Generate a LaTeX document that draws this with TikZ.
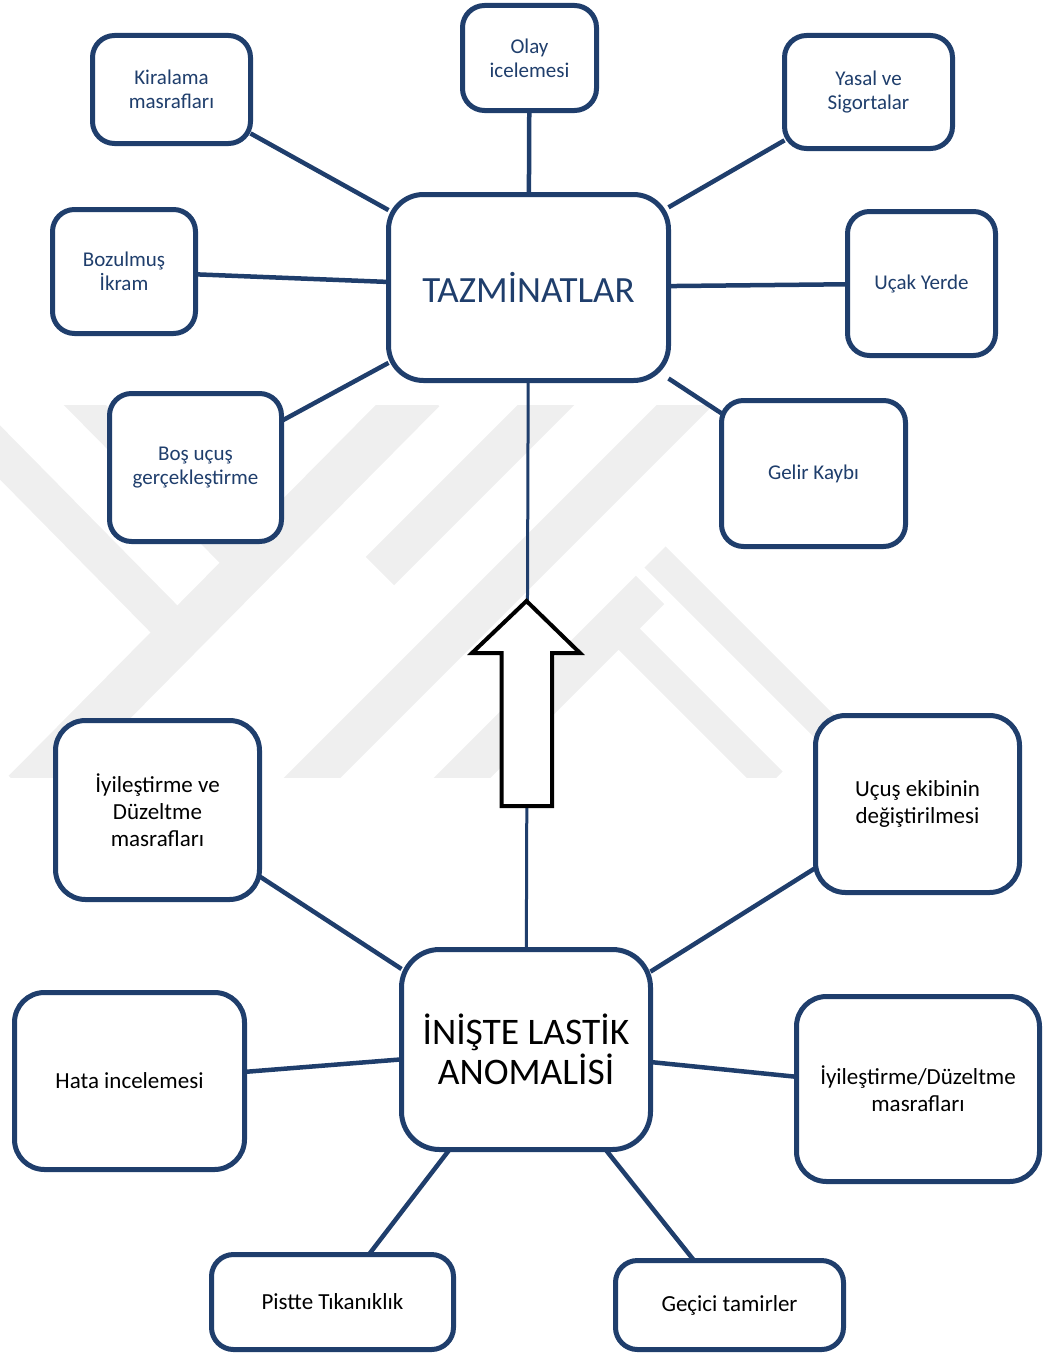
\documentclass[tikz,border=0pt]{standalone}
\usepackage{fontspec}
\setmainfont{Carlito}
\pgfdeclarelayer{wmlayer}
\pgfdeclarelayer{linklayer}
\pgfsetlayers{wmlayer,linklayer,main}
\definecolor{navy}{RGB}{31,62,108}
\definecolor{wmgray}{RGB}{239,239,239}
\tikzset{
  box/.style={draw=navy, line width=5pt, fill=white, rounded corners=22pt, align=center, inner sep=0pt, outer sep=0pt},
  topbox/.style={box, text=navy, font=\fontsize{21}{24}\selectfont},
  lowbox/.style={box, text=black, rounded corners=30pt, font=\fontsize{23}{27}\selectfont},
  link/.style={draw=navy, line width=4.5pt},
  band/.style={draw=wmgray, line width=#1, line cap=butt},
  blockarrow/.style={draw=black, line width=4pt, fill=white, line join=miter},
}
\begin{document}
\begin{tikzpicture}[x=1pt, y=-1pt]
\useasboundingbox (0,0) rectangle (1043,1354);

% watermark
\begin{pgfonlayer}{wmlayer}
\begin{scope}
\clip (0,405) rectangle (1043,777);
\draw[band=30pt] (70,390) -- (238,560);
\draw[band=38pt] (-30,422) -- (170,625);
\draw[band=46pt] (423,390) -- (25,792);
\draw[band=40pt] (561,390) -- (380,571);
\draw[band=40pt] (700,390) -- (298,792);
\draw[band=40pt] (650,590) -- (448,792);
\draw[band=30pt] (655,557) -- (880,782);
\draw[band=30pt] (620,630) -- (772,782);
\end{scope}
\end{pgfonlayer}

% upper group
\node[box, rounded corners=35pt, text=navy, font=\fontsize{37}{40}\selectfont,
      minimum width=280pt, minimum height=186pt] (taz) at (528.5,287.5) {TAZMİNATLAR};
\node[topbox, minimum width=134pt, minimum height=105pt] (olay) at (529.5,58) {Olay\\icelemesi};
\node[topbox, minimum width=158pt, minimum height=108pt] (kira) at (171.5,89.5) {Kiralama\\masrafları};
\node[topbox, minimum width=168pt, minimum height=113pt] (yasal) at (868.5,92) {Yasal ve\\Sigortalar};
\node[topbox, minimum width=143pt, minimum height=124pt] (bozul) at (124,271.5) {Bozulmuş\\İkram};
\node[topbox, minimum width=148pt, minimum height=144pt] (ucak) at (921.5,283.5) {Uçak Yerde};
\node[topbox, minimum width=172pt, minimum height=148pt] (bos) at (195.5,467.5) {Boş uçuş\\gerçekleştirme};
\node[topbox, minimum width=184pt, minimum height=146pt] (gelir) at (813.5,473.5) {Gelir Kaybı};

% lower group
\node[box, rounded corners=38pt, text=black, font=\fontsize{37.5}{40}\selectfont,
      minimum width=249pt, minimum height=200pt] (anom) at (526,1049.5) {İNİŞTE LASTİK\\ANOMALİSİ};
\node[lowbox, minimum width=204pt, minimum height=179pt] (iyive) at (157.5,810) {İyileştirme ve\\Düzeltme\\masrafları};
\node[lowbox, minimum width=204pt, minimum height=177pt] (ucus) at (917.5,804) {Uçuş ekibinin\\değiştirilmesi};
\node[lowbox, minimum width=230pt, minimum height=177pt] (hata) at (129.5,1081) {Hata incelemesi};
\node[lowbox, minimum width=243pt, minimum height=185pt] (iyidz) at (918,1089) {İyileştirme/Düzeltme\\masrafları};
\node[lowbox, rounded corners=22pt, minimum width=242pt, minimum height=95pt] (pist) at (332.5,1302) {Pistte Tıkanıklık};
\node[lowbox, rounded corners=22pt, minimum width=228pt, minimum height=89pt] (gecici) at (729.5,1305) {Geçici tamirler};

% connectors
\begin{pgfonlayer}{linklayer}
\foreach \n in {olay,kira,yasal,bozul,ucak,bos,gelir}
  \draw[link] (\n) -- (taz);
\foreach \n in {iyive,ucus,hata,iyidz,pist,gecici}
  \draw[link] (\n) -- (anom);
\draw[link, line width=3pt] (taz) -- (anom);
\end{pgfonlayer}

% block arrow
\draw[blockarrow] (526.5,601) -- (580,653) -- (552,653) -- (552,806)
  -- (501.5,806) -- (501.5,653) -- (472,653) -- cycle;
\end{tikzpicture}
\end{document}
